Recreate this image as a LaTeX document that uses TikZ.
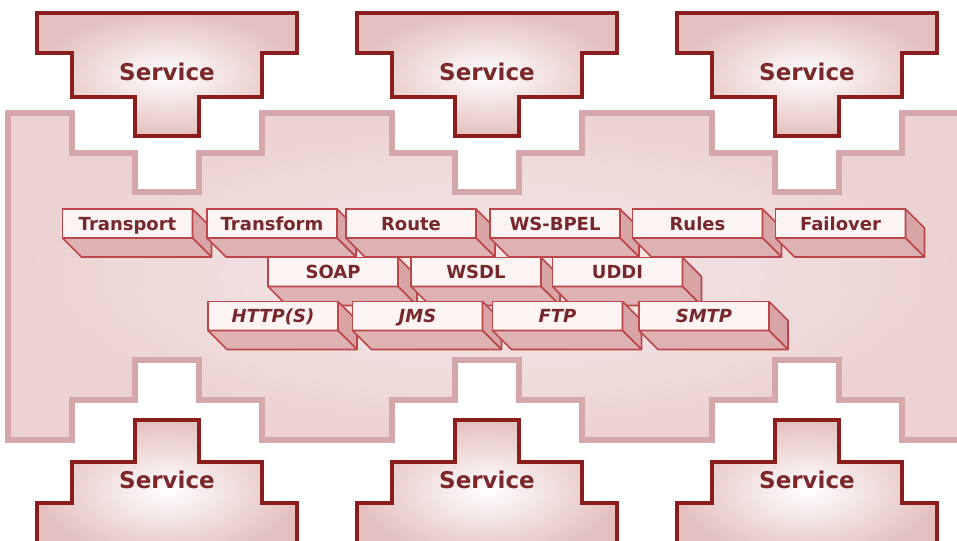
\documentclass[tikz,border=0pt]{standalone}
\usepackage{fontspec}
\setmainfont{DejaVu Sans}
\definecolor{svcred}{RGB}{140,29,29}
\definecolor{svcpink}{RGB}{228,192,192}
\definecolor{svclabel}{RGB}{122,40,42}
\definecolor{busrim}{RGB}{214,167,169}
\definecolor{busfill}{RGB}{236,210,210}
\definecolor{busin}{RGB}{246,234,234}
\definecolor{slabred}{RGB}{186,70,74}
\definecolor{frontpink}{RGB}{252,243,243}
\definecolor{sidepink}{RGB}{216,164,166}
\definecolor{basepink}{RGB}{222,178,179}
\definecolor{labelred}{RGB}{118,40,44}
\usetikzlibrary{calc}

% one layer block: front face plus its right and bottom sides
\newcommand{\slabnode}[4][]{%
  \node[slabfront,#1] (#2) at (#3) {#4};
  \filldraw[slabside] (#2.north east) -- ++(9.5pt,-9.5pt) -- ++(0,-14.5pt) -- (#2.south east) -- cycle;
  \filldraw[slabbase] (#2.south west) -- ++(9.5pt,-9.5pt) -- ++(65pt,0) -- (#2.south east) -- cycle;
}

\begin{document}
\begin{tikzpicture}[
  x=0.5pt,y=-0.5pt,
  service/.style={draw=svcred,line width=2pt,inner color=white,outer color=svcpink},
  bus/.style={draw=busrim,line width=3pt,inner color=busin,outer color=busfill},
  svctext/.style={font=\fontsize{11.5}{14}\selectfont\bfseries,text=svclabel},
  slabfront/.style={draw=slabred,line width=0.8pt,fill=frontpink,minimum width=65pt,
    minimum height=14.5pt,inner sep=0pt,outer sep=0pt,text height=6.6pt,text depth=0pt,
    font=\fontsize{9}{10}\selectfont\bfseries,text=labelred},
  proto/.style={font=\fontsize{9}{10}\selectfont\bfseries\itshape},
  slabside/.style={draw=slabred,line width=0.8pt,fill=sidepink,line join=round},
  slabbase/.style={draw=slabred,line width=0.8pt,fill=basepink,line join=round}
]
  \useasboundingbox (0,0) rectangle (957,540);
  \clip (0,0) rectangle (957,540);

  % Bus panel
  \draw[bus] (8,113) -- (72,113) -- (72,153) -- (135,153) -- (135,192) -- (199,192) -- (199,153) -- (262,153) -- (262,113)
    -- (392,113) -- (392,153) -- (455,153) -- (455,192) -- (519,192) -- (519,153) -- (582,153) -- (582,113)
    -- (712,113) -- (712,153) -- (775,153) -- (775,192) -- (839,192) -- (839,153) -- (902,153) -- (902,113)
    -- (975,113) -- (975,440)
    -- (902,440) -- (902,400) -- (839,400) -- (839,360) -- (775,360) -- (775,400) -- (712,400) -- (712,440)
    -- (582,440) -- (582,400) -- (519,400) -- (519,360) -- (455,360) -- (455,400) -- (392,400) -- (392,440)
    -- (262,440) -- (262,400) -- (199,400) -- (199,360) -- (135,360) -- (135,400) -- (72,400) -- (72,440)
    -- (8,440) -- cycle;

  % Services on top
  \draw[service,shift={(167,0)}] (-130,13) -- (130,13) -- (130,53) -- (95,53) -- (95,97) -- (32,97) -- (32,136)
    -- (-32,136) -- (-32,97) -- (-95,97) -- (-95,53) -- (-130,53) -- cycle;
  \draw[service,shift={(487,0)}] (-130,13) -- (130,13) -- (130,53) -- (95,53) -- (95,97) -- (32,97) -- (32,136)
    -- (-32,136) -- (-32,97) -- (-95,97) -- (-95,53) -- (-130,53) -- cycle;
  \draw[service,shift={(807,0)}] (-130,13) -- (130,13) -- (130,53) -- (95,53) -- (95,97) -- (32,97) -- (32,136)
    -- (-32,136) -- (-32,97) -- (-95,97) -- (-95,53) -- (-130,53) -- cycle;
  \node[svctext] (svc1) at (167,72) {Service};
  \node[svctext] (svc2) at (487,72) {Service};
  \node[svctext] (svc3) at (807,72) {Service};

  % Services below
  \draw[service,shift={(167,0)}] (-32,420) -- (32,420) -- (32,462) -- (95,462) -- (95,503) -- (130,503) -- (130,560)
    -- (-130,560) -- (-130,503) -- (-95,503) -- (-95,462) -- (-32,462) -- cycle;
  \draw[service,shift={(487,0)}] (-32,420) -- (32,420) -- (32,462) -- (95,462) -- (95,503) -- (130,503) -- (130,560)
    -- (-130,560) -- (-130,503) -- (-95,503) -- (-95,462) -- (-32,462) -- cycle;
  \draw[service,shift={(807,0)}] (-32,420) -- (32,420) -- (32,462) -- (95,462) -- (95,503) -- (130,503) -- (130,560)
    -- (-130,560) -- (-130,503) -- (-95,503) -- (-95,462) -- (-32,462) -- cycle;
  \node[svctext] (svc4) at (167,480) {Service};
  \node[svctext] (svc5) at (487,480) {Service};
  \node[svctext] (svc6) at (807,480) {Service};

  % Bus capabilities
  \slabnode{transport}{127.5,223.5}{Transport}
  \slabnode{transform}{272,223.5}{Transform}
  \slabnode{route}{411,223.5}{Route}
  \slabnode{bpel}{555,223.5}{WS-BPEL}
  \slabnode{rules}{697.5,223.5}{Rules}
  \slabnode{failover}{840.5,223.5}{Failover}

  \slabnode{soap}{333,272}{SOAP}
  \slabnode{wsdl}{476,272}{WSDL}
  \slabnode{uddi}{617.5,272}{UDDI}

  \slabnode[proto]{http}{273,316}{HTTP(S)}
  \slabnode[proto]{jms}{417.5,316}{JMS}
  \slabnode[proto]{ftp}{557.5,316}{FTP}
  \slabnode[proto]{smtp}{704,316}{SMTP}
\end{tikzpicture}
\end{document}
